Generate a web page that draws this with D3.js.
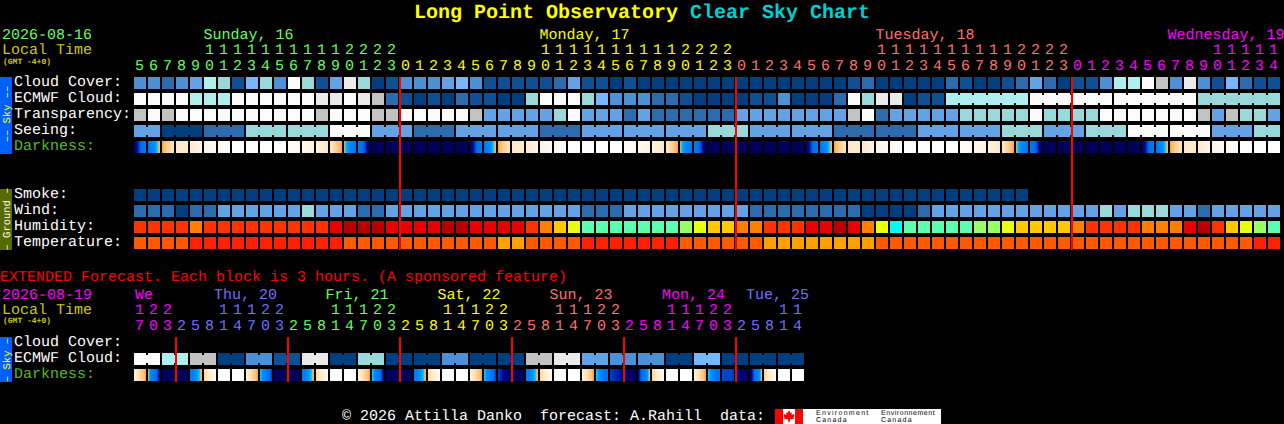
<!DOCTYPE html>
<html><head><meta charset="utf-8">
<script src="https://cdn.jsdelivr.net/npm/d3@7"></script>
<style>html,body{margin:0;padding:0;background:#000;overflow:hidden}svg{display:block}text{font-family:"Liberation Mono",monospace;white-space:pre;text-rendering:geometricPrecision}</style>
</head><body><svg id="c" width="1284" height="424"></svg>
<script>
// ---------- data ----------
const hoursMain=[5,6,7,8,9,10,11,12,13,14,15,16,17,18,19,20,21,22,23,
0,1,2,3,4,5,6,7,8,9,10,11,12,13,14,15,16,17,18,19,20,21,22,23,
0,1,2,3,4,5,6,7,8,9,10,11,12,13,14,15,16,17,18,19,20,21,22,23,
0,1,2,3,4,5,6,7,8,9,10,11,12,13,14];
const hoursExt=[17,20,23,2,5,8,11,14,17,20,23,2,5,8,11,14,17,20,23,2,5,8,11,14,17,20,23,2,5,8,11,14,17,20,23,2,5,8,11,14,17,20,23,2,5,8,11,14];
const cloudCover=[3,3,2,3,4,7,6,1,5,6,3,10,6,1,4,9,6,0,1,
3,3,3,4,5,3,1,1,1,1,1,2,4,1,1,0,1,0,0,0,0,0,0,0,
0,0,0,0,0,0,0,0,1,2,0,0,0,0,0,2,1,0,0,1,2,4,2,0,
1,1,3,7,7,10,8,3,9,3,1,5,2,1,1];
const ecmwfCloud=[10,10,10,10,7,7,7,10,10,10,10,10,10,9,9,10,9,8,2,
1,0,1,0,2,1,1,0,0,6,10,10,10,6,5,3,3,3,2,2,1,0,0,0,
0,1,1,3,0,0,0,2,10,6,9,9,0,1,1,7,7,7,7,7,7,10,10,10,
10,10,10,10,10,10,10,10,10,6,6,6,6,6,6];
const ecmwfGroups=[58,64,70,76,82];
const transparency=[8,10,8,10,10,10,10,10,10,10,10,10,10,8,10,10,10,8,8,
10,10,10,10,10,8,4,4,4,4,4,6,10,4,4,4,2,4,2,2,2,2,2,2,
4,4,4,4,4,4,4,4,8,10,2,4,4,4,4,4,6,6,6,6,6,10,6,6,
6,6,10,10,10,10,10,10,10,8,4,8,6,6,4];
const seeingBlocks=[4,0,2,6,6,10,4,2,4,4,2,4,4,4,6,4,4,2,2,4,4,6,4,6,10,10,4,6];
const seeingSizes=[2,3,3,3,3,3,3,3,3,3,3,3,3,3,3,3,3,3,3,3,3,3,3,3,3,3,3,2];
const smoke=[0,0,0,0,0,0,0,0,0,0,0,0,0,0,0,0,0,0,0,0,0,0,0,0,0,0,0,0,0,0,0,0,0,0,0,0,0,0,0,0,0,0,0,0,0,0,0,0,0,0,0,0,0,0,0,0,0,0,0,0,0,0,0,0];
const wind=[2,2,2,0,2,2,4,4,4,4,4,4,6,4,4,4,2,2,4,
4,4,4,4,4,4,4,4,4,4,4,4,4,2,2,2,4,4,4,4,4,4,4,4,
4,2,2,2,2,2,2,2,2,0,0,0,0,2,4,4,4,4,4,4,4,4,4,4,
4,4,6,4,6,6,6,4,4,2,4,4,4,4,4];
const humidity=[2,2,2,2,3,2,2,2,2,2,2,2,2,2,1,0,0,0,1,
1,1,1,0,0,1,1,1,1,2,3,4,5,7,7,7,7,7,7,7,6,5,4,4,
3,3,2,2,2,1,1,0,1,3,5,8,7,7,7,7,7,6,6,5,4,4,4,4,
3,2,2,2,2,3,3,3,1,0,2,4,5,6,7];
const temperature=[1,1,1,1,0,0,0,0,0,0,0,0,0,0,0,1,1,1,1,
1,1,1,1,1,1,1,2,2,1,1,1,1,0,0,0,0,0,0,0,1,1,1,1,
1,1,2,2,2,2,2,2,2,2,1,1,1,1,1,1,1,1,1,1,1,1,1,1,
1,1,1,1,1,1,1,1,1,1,1,1,1,0,0];
const darkStart=[7.5,5,3.4,2,1.6,1,.5,0,0,0,0,.2,.6,1.2,2,3.5,5,8,8,
8,8,8,8,8,7.5,5,3.4,2,1.6,1,.5,0,0,0,0,.2,.6,1.2,2,3.5,5,8,8,
8,8,8,8,8,7.5,5,3.4,2,1.6,1,.5,0,0,0,0,.2,.6,1.2,2,3.5,5,8,8,
8,8,8,8,8,7.5,5,3.4,2,1.6,1,.5,0,0,0];
const darkEnd=[5,3.3,2,1.6,1,.6,.2,0,0,0,0,.6,1.2,2,3.4,5,7.5,8,8,
8,8,8,8,8,5,3.3,2,1.6,1,.6,.2,0,0,0,0,.6,1.2,2,3.4,5,7.5,8,8,
8,8,8,8,8,5,3.3,2,1.6,1,.6,.2,0,0,0,0,.6,1.2,2,3.4,5,7.5,8,8,
8,8,8,8,8,5,3.3,2,1.6,1,.6,.2,0,0,0];
const extCloud=[10,7,8,0,3,1,9,0,6,0,0,3,0,0,8,9,4,3,3,0,5,0,0,0];
const extDarkStart=[1.5,3.5,8,8,5,2.5,0,0,1.5,3.6,8,8,5,2.5,0,0,1.5,3.6,8,8,5,2.5,0,0,1.5,3.6,6.5,8,5,2.5,0,0,1.5,3.6,6.5,7.5,7,2.5,0,0,1.5,3.6,6.4,7,7.5,2.5,0,0];
const extDarkEnd=[3.4,7,8,8,3.3,.5,0,0,3.4,6.5,8,8,3.3,.5,0,0,3.4,7,8,8,3.3,.5,0,0,3.4,6.5,7.5,8,3.3,.5,0,0,3.4,6,6.9,8,3.3,.5,0,0,3.4,6,6.5,8,3.3,.5,0,0];
const dayMain=[["Sunday, 16",5,"#66ff66"],["Monday, 17",29,"#ffff00"],["Tuesday, 18",53,"#ff7070"],["Wednesday, 19",74,"#ff00ff"]];
const dayExt=[["We",0,"#ff00ff"],["Thu, 20",5.65,"#7070ff"],["Fri, 21",13.6,"#66ff66"],["Sat, 22",21.6,"#ffff00"],["Sun, 23",29.6,"#ff7070"],["Mon, 24",37.65,"#ff00ff"],["Tue, 25",43.65,"#7070ff"]];
const mainColourBreaks=[19,43,67,82];
const extColourBreaks=[3,11,19,27,35,43,48];
const mainColours=["#66ff66","#ffff00","#ff7070","#ff00ff"];
const extColours=["#ff00ff","#7070ff","#66ff66","#ffff00","#ff7070","#ff00ff","#7070ff"];
const redMain=[19,43,67];
const redExt=[3,11,19,27,35,43];
const skyLevels=["#003f7f","#0f4f93","#2c6cae","#4c90d5","#63a3e5","#77b7ff","#99d9d9","#aeeeee","#c2c2c2","#eaeaea","#fbfbfb"];
const humidityLevels=["#b80000","#e80000","#ff3300","#ff8000","#ffc800","#e8ff10","#99ff66","#5affb0","#00ffee"];
const temperatureLevels=["#ff2000","#ff5a00","#ffa000"];
const darkDomain=[0,1,2,3,3.5,3.6,4,5,6,6.5,7,8];
const darkRange=["#ffffff","#fff5e6","#ffe6c4","#ffc680","#ffa030","#00ccff","#0090ff","#0078f0","#0070e8","#0040c0","#000090","#00005a"];
const labelsMain=[["Cloud Cover:",0],["ECMWF Cloud:",1],["Transparency:",2],["Seeing:",3],["Darkness:",4],["Smoke:",7],["Wind:",8],["Humidity:",9],["Temperature:",10]];
const labelsExt=[["Cloud Cover:",0],["ECMWF Cloud:",1],["Darkness:",2]];

// ---------- drawing ----------
const svg=d3.select("#c");
const W=12,STEP=14;
const xMain=d3.scaleLinear().domain([0,82]).range([134,134+82*STEP]);
const yMain=d3.scaleLinear().domain([0,10]).range([77,77+160]);
const yExt=d3.scaleLinear().domain([0,2]).range([337,369]);
const sky=d3.scaleOrdinal(d3.range(11),skyLevels);
const hum=d3.scaleOrdinal(d3.range(9),humidityLevels);
const tem=d3.scaleOrdinal(d3.range(3),temperatureLevels);
const dark=d3.scaleLinear().domain(darkDomain).range(darkRange);

function text(s,x,y,fill,o={}){
  const t=svg.append("text").attr("x",x).attr("y",y).attr("fill",fill)
   .attr("font-size",o.size||15).attr("font-weight",o.weight||"normal")
   .attr("text-anchor",o.anchor||"start").attr("transform",o.rot||null).text(s);
  if(o.family) t.style("font-family",o.family);
  if(o.spacing) t.attr("letter-spacing",o.spacing);
  return t;
}
function cells(values,row,scale,y=yMain){
  svg.append("g").selectAll("rect").data(values).join("rect")
   .attr("x",(d,i)=>xMain(i)).attr("y",y(row)).attr("width",W).attr("height",W)
   .attr("fill",d=>scale(d));
}
function bridges(links,row,y=yMain){
  svg.append("g").selectAll("rect").data(links).join("rect")
   .attr("x",d=>xMain(d.i)+W).attr("y",y(row)+2).attr("width",STEP-W).attr("height",W-4)
   .attr("fill",d=>d.c);
}
function slices(starts,ends,row,y=yMain){
  const data=[];
  starts.forEach((s,i)=>d3.range(W).forEach(p=>data.push({i,p,t:s+(ends[i]-s)*p/(W-1)})));
  svg.append("g").selectAll("rect").data(data).join("rect")
   .attr("x",d=>xMain(d.i)+d.p).attr("y",y(row)).attr("width",1).attr("height",W)
   .attr("fill",d=>dark(d.t));
}
// title
const title=svg.append("text").attr("x",414).attr("y",18).attr("font-size",20).attr("font-weight","bold");
title.append("tspan").attr("fill","#ffff00").text("Long Point Observatory ");
title.append("tspan").attr("fill","#00d0d0").text("Clear Sky Chart");

// rows - main
cells(cloudCover,0,sky);
cells(ecmwfCloud,1,sky);
cells(transparency,2,sky);
const seeing=seeingBlocks.flatMap((v,k)=>d3.range(seeingSizes[k]).map(()=>v));
cells(seeing,3,sky);
slices(darkStart,darkEnd,4);
cells(smoke,7,sky);
cells(wind,8,sky);
cells(humidity,9,hum);
cells(temperature,10,tem);
// links
let c=0,seeLinks=[];
seeingSizes.forEach((n,k)=>{d3.range(n-1).forEach(j=>seeLinks.push({i:c+j,c:sky(seeingBlocks[k])}));c+=n;});
bridges(seeLinks,3);
let ecLinks=[];
ecmwfGroups.forEach((e,k)=>{if(k){d3.range(ecmwfGroups[k-1],e-1).forEach(i=>ecLinks.push({i,c:sky(ecmwfCloud[i])}));}});
bridges(ecLinks,1);
// rows - extended
const extExpanded=extCloud.flatMap(v=>[v,v]);
cells(extExpanded,1,sky,yExt);
bridges(extCloud.map((v,k)=>({i:k*2,c:sky(v)})),1,yExt);
slices(extDarkStart,extDarkEnd,2,yExt);
// red lines
svg.append("g").selectAll("rect").data(redMain).join("rect")
 .attr("x",d=>xMain(d)-1).attr("y",77).attr("width",2).attr("height",173).attr("fill","#ff0000");
svg.append("g").selectAll("rect").data(redExt).join("rect")
 .attr("x",d=>xMain(d)-1).attr("y",337).attr("width",2).attr("height",45).attr("fill","#ff0000");

// hour digits
function hours(list,breaks,cols,yTens,yUnits){
  list.forEach((h,i)=>{
    const col=cols[breaks.findIndex(b=>i<b)];
    const cx=xMain(i)+5.5;
    if(h>=10) text(String(Math.floor(h/10)),cx,yTens,col,{anchor:"middle"});
    text(String(h%10),cx,yUnits,col,{anchor:"middle"});
  });
}
hours(hoursMain,mainColourBreaks,mainColours,54,70);
hours(hoursExt,extColourBreaks,extColours,314,330);
dayMain.forEach(([s,i,col])=>text(s,xMain(i)-.5+(i===74?-2:0),39,col));
dayExt.forEach(([s,i,col])=>text(s,xMain(i)+1,299,col));

// left block
text("2026-08-16",2,39,"#66ff66");
text("Local Time",2,54,"#cccc00");
text("(GMT -4+0)",3,64,"#cccc00",{size:8,weight:"bold"});
text("2026-08-19",2,299,"#ff00ff");
text("Local Time",2,314,"#cccc00");
text("(GMT -4+0)",3,323,"#cccc00",{size:8,weight:"bold"});
text("EXTENDED Forecast. Each block is 3 hours. (A sponsored feature)",0,281,"#ff0000");
const lab=(s,y)=>text(s,14,y+9,s==="Darkness:"?"#55bb22":"#ffffff");
labelsMain.forEach(([s,r])=>lab(s,yMain(r)));
labelsExt.forEach(([s,r])=>lab(s,yExt(r)));
// side bars
function bar(y0,y1,fill,label,col,yc){
  svg.append("rect").attr("x",0).attr("y",y0).attr("width",12).attr("height",y1-y0).attr("fill",fill);
  text(label,0,0,col,{size:10.5,anchor:"middle",rot:`translate(9.5,${yc}) rotate(-90)`});
}
bar(77,154,"#0060ff","\u2013\u2013 Sky \u2013\u2013","#ffff00",114);
bar(189,250,"#556b00","\u2013 Ground \u2013","#ffffff",219);
bar(337,382,"#0060ff","\u2013 Sky \u2013","#ffff00",360);

// footer
text("\u00a9 2026 Attilla Danko  forecast: A.Rahill  data:",342,420,"#ffffff");
svg.append("rect").attr("x",775).attr("y",409).attr("width",166).attr("height",15).attr("fill","#fff");
svg.append("rect").attr("x",775).attr("y",409).attr("width",8).attr("height",15).attr("fill","#f00");
svg.append("rect").attr("x",795).attr("y",409).attr("width",8).attr("height",15).attr("fill","#f00");
const leaf=d3.line()([[789,410],[790.5,413],[792,412.5],[791.5,415],[794,414],[794.5,416],[793.5,417.5],[794.5,418.5],[790,419.5],[789.5,422.5],[788.5,422.5],[788,419.5],[783.5,418.5],[784.5,417.5],[783.5,416],[784,414],[786.5,415],[786,412.5],[787.5,413]])+"Z";
svg.append("path").attr("d",leaf).attr("fill","#f00");
[816,881].forEach((x,k)=>{
  text(k?"Environnement":"Environment",x,414.5,"#000",{size:7,family:'"Liberation Sans",sans-serif',spacing:k?0.55:1.3});
  text("Canada",x,422.3,"#000",{size:7,family:'"Liberation Sans",sans-serif',spacing:1.2});
});
</script></body></html>
